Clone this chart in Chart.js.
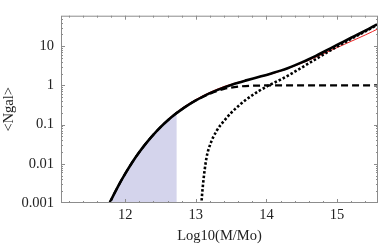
<!DOCTYPE html>
<html>
<head>
    <title>Ngal vs halo mass</title>
    <script src="https://cdn.jsdelivr.net/npm/chart.js"></script>
    <style>
        html, body { margin: 0; padding: 0; background: #fff; }
        canvas { display: block; }
    </style>
</head>
<body>
    <canvas id="hodChart" width="382" height="245"></canvas>

    <script>
        // halo mass grid, Log10(M/Mo)
        const logMass = [11.7, 11.8, 11.9, 12.0, 12.1, 12.2, 12.3, 12.4, 12.5, 12.6,
                         12.7, 12.8, 12.9, 13.0, 13.1, 13.2, 13.3, 13.4, 13.5, 13.6,
                         13.7, 13.8, 13.9, 14.0, 14.1, 14.2, 14.3, 14.4, 14.5, 14.6,
                         14.7, 14.8, 14.9, 15.0, 15.1, 15.2, 15.3, 15.4, 15.5, 15.6];

        // total <Ngal> (thick black)
        const totalN = [0.0005, 0.0012, 0.0027, 0.0056, 0.011, 0.02, 0.0343, 0.0556, 0.0861, 0.127,
                        0.18, 0.245, 0.324, 0.415, 0.519, 0.634, 0.759, 0.891, 1.03, 1.175,
                        1.324, 1.483, 1.656, 1.854, 2.089, 2.382, 2.754, 3.236, 3.855, 4.656,
                        5.689, 7.015, 8.69, 10.76, 13.3, 16.41, 20.18, 24.95, 31.05, 39.08];

        // thin red curve
        const redN = [0.0005, 0.0012, 0.0027, 0.0056, 0.011, 0.02, 0.0343, 0.0569, 0.0902, 0.134,
                      0.189, 0.258, 0.34, 0.436, 0.546, 0.667, 0.798, 0.938, 1.067, 1.202,
                      1.34, 1.483, 1.637, 1.803, 2.032, 2.317, 2.679, 3.148, 3.698, 4.395,
                      5.248, 6.324, 7.621, 9.204, 11.07, 13.34, 16.03, 19.36, 23.55, 28.97];

        // centrals (dashed)
        const centralN = [0.0005, 0.0012, 0.0027, 0.0056, 0.011, 0.02, 0.0343, 0.0556, 0.0861, 0.127,
                          0.18, 0.245, 0.324, 0.415, 0.51, 0.615, 0.72, 0.81, 0.88, 0.93,
                          0.963, 0.982, 0.992, 0.997, 1, 1, 1, 1, 1, 1,
                          1, 1, 1, 1, 1, 1, 1, 1, 1, 1];

        // satellites (dotted)
        const satMass = [13.07, 13.08, 13.1, 13.15, 13.2, 13.3, 13.4, 13.5, 13.6, 13.7,
                         13.8, 13.9, 14.0, 14.1, 14.2, 14.3, 14.4, 14.5, 14.6, 14.7,
                         14.8, 14.9, 15.0, 15.1, 15.2, 15.3, 15.4, 15.5, 15.6];
        const satN = [0.0004, 0.001, 0.0028, 0.014, 0.03, 0.072, 0.125, 0.2, 0.295, 0.417,
                      0.562, 0.733, 0.93, 1.15, 1.41, 1.754, 2.236, 2.855, 3.656, 4.689,
                      6.015, 7.69, 9.76, 12.3, 15.41, 19.18, 23.95, 30.05, 38.08];

        // shaded band under the curve, ends at this mass
        const shadeEndMass = 12.73;
        const shadeEndN = 0.19;

        const xTicks = [12, 13, 14, 15];
        const yTicks = [0.001, 0.01, 0.1, 1, 10];
        const yTickLabels = ['0.001', '0.01', '0.1', '1', '10'];

        const pts = (xs, ys) => xs.map((x, i) => ({ x: x, y: ys[i] }));

        const shadePts = pts(logMass, totalN).filter(p => p.x <= shadeEndMass);
        shadePts.push({ x: shadeEndMass, y: shadeEndN });

        const serif = { family: '"Liberation Serif", "DejaVu Serif", serif', size: 14.5 };
        const frameColor = '#8c8c8c';

        // Mathematica-style frame with inward ticks on all four sides
        const frameTicks = {
            id: 'frameTicks',
            afterDatasetsDraw(chart) {
                const { ctx, chartArea: a, scales: { x, y } } = chart;
                ctx.save();
                ctx.strokeStyle = frameColor;
                ctx.lineWidth = 1;
                ctx.strokeRect(a.left + 0.5, a.top + 0.5, a.right - a.left - 1, a.bottom - a.top - 1);
                ctx.beginPath();
                for (let i = 56; i <= 78; i++) {
                    const px = Math.round(x.getPixelForValue(i / 5)) + 0.5;
                    if (px <= a.left + 1 || px >= a.right - 1) continue;
                    const len = i % 5 === 0 ? 4 : 2;
                    ctx.moveTo(px, a.bottom); ctx.lineTo(px, a.bottom - len);
                    ctx.moveTo(px, a.top); ctx.lineTo(px, a.top + len);
                }
                for (let d = -3; d <= 1; d++) {
                    for (let m = 1; m <= 9; m++) {
                        const v = m * Math.pow(10, d);
                        if (v > y.max) continue;
                        const py = Math.round(y.getPixelForValue(v)) + 0.5;
                        if (py >= a.bottom - 1 || py <= a.top + 1) continue;
                        const len = m === 1 ? 4 : 2;
                        ctx.moveTo(a.left, py); ctx.lineTo(a.left + len, py);
                        ctx.moveTo(a.right, py); ctx.lineTo(a.right - len, py);
                    }
                }
                ctx.stroke();
                ctx.restore();
            }
        };

        new Chart(document.getElementById('hodChart'), {
            type: 'line',
            data: {
                datasets: [
                    {
                        data: shadePts,
                        borderWidth: 0,
                        backgroundColor: 'rgb(212,212,236)',
                        fill: 'start',
                        order: 5
                    },
                    {
                        data: pts(logMass, redN),
                        borderColor: 'rgb(235,35,35)',
                        borderWidth: 1,
                        order: 4
                    },
                    {
                        data: pts(logMass, totalN),
                        borderColor: '#000',
                        borderWidth: 2.6,
                        order: 3
                    },
                    {
                        data: pts(logMass, centralN),
                        borderColor: '#000',
                        borderWidth: 2.2,
                        borderDash: [7, 4],
                        order: 2
                    },
                    {
                        data: pts(satMass, satN),
                        borderColor: '#000',
                        borderWidth: 2.6,
                        borderDash: [2.5, 2],
                        order: 1
                    }
                ]
            },
            options: {
                responsive: false,
                animation: false,
                devicePixelRatio: 1,
                layout: { padding: { top: 7, right: 4, left: 0, bottom: 0 } },
                elements: {
                    point: { radius: 0 },
                    line: { cubicInterpolationMode: 'monotone', fill: false }
                },
                plugins: { legend: { display: false }, tooltip: { enabled: false } },
                scales: {
                    x: {
                        type: 'linear',
                        min: 11.09,
                        max: 15.58,
                        afterBuildTicks: s => { s.ticks = xTicks.map(v => ({ value: v })); },
                        afterFit: s => { s.height = 42; },
                        grid: { display: false, drawTicks: false },
                        border: { display: false },
                        ticks: {
                            font: serif, color: '#222', padding: 3,
                            maxRotation: 0, autoSkip: false,
                            callback: v => String(v)
                        },
                        title: {
                            display: true, text: 'Log10(M/Mo)',
                            font: serif, color: '#222',
                            padding: { top: 0, bottom: 0 }
                        }
                    },
                    y: {
                        type: 'logarithmic',
                        min: 0.001,
                        max: 60,
                        afterBuildTicks: s => { s.ticks = yTicks.map(v => ({ value: v })); },
                        afterFit: s => { s.width = 61; },
                        grid: { display: false, drawTicks: false },
                        border: { display: false },
                        ticks: {
                            font: serif, color: '#222', padding: 7,
                            autoSkip: false,
                            callback: v => yTickLabels[yTicks.indexOf(v)] ?? ''
                        },
                        title: {
                            display: true, text: '<Ngal>',
                            font: serif, color: '#222',
                            padding: { top: 0, bottom: 0 }
                        }
                    }
                }
            },
            plugins: [frameTicks]
        });
    </script>
</body>
</html>
